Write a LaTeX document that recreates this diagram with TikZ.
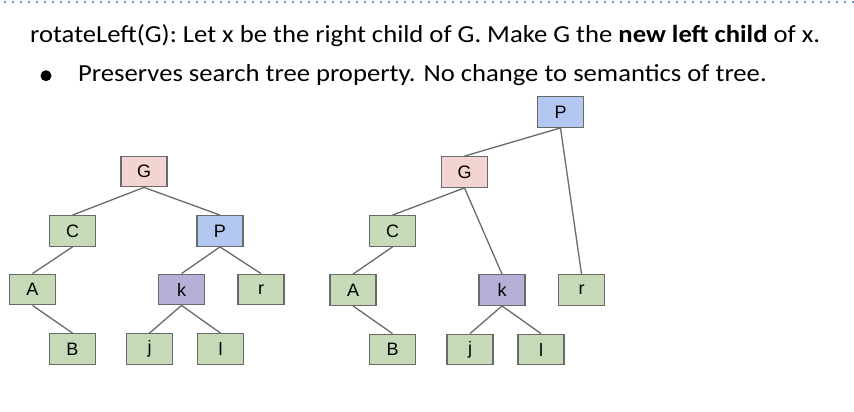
\documentclass[tikz,border=0pt]{standalone}
\usepackage{fontspec}
\setmainfont{Carlito}
\newfontfamily\boxfont{Liberation Sans}
\definecolor{dotblue}{HTML}{6F94C8}
\definecolor{gfill}{HTML}{F2D4D0}
\definecolor{cfill}{HTML}{C6DAB8}
\definecolor{pfill}{HTML}{B2C8F0}
\definecolor{kfill}{HTML}{B6B0D8}
\definecolor{edgegray}{HTML}{6A6A6A}
\tikzset{
  tn/.style={draw=edgegray, line width=1.3pt, minimum width=46pt, minimum height=30.5pt, inner sep=0pt, font=\boxfont\fontsize{18}{18}\selectfont},
  gnode/.style={tn, fill=gfill},
  cnode/.style={tn, fill=cfill},
  pnode/.style={tn, fill=pfill},
  knode/.style={tn, fill=kfill},
  link/.style={draw=edgegray, line width=1.3pt},
  txt/.style={anchor=base west, inner sep=0pt, font=\fontsize{24.5}{26}\selectfont},
}
\newcommand{\wide}[1]{\scalebox{1.088}[1]{#1}}
\begin{document}
\begin{tikzpicture}[x=1pt,y=-1pt]
\useasboundingbox (0,0) rectangle (854,412);
% dotted rule
\foreach \i in {0,...,106} {
  \fill[dotblue] (5+8*\i-1,1.5) rectangle (5+8*\i+1,3.5);
}
\node[txt] (title) at (30,42.3)
  {\wide{rotateLeft(G): Let x be the right child of G. Make G the \textbf{new left child} of x.}};
\fill (46,75.7) circle (5.5pt);
\node[txt] (line2) at (78,81.7)
  {\wide{Preserves search tree property. No change to semantics of tree.}};
% left tree
\node[gnode] (G1) at (144,171.5) {G};
\node[cnode] (C1) at (72.5,231) {C};
\node[pnode] (P1) at (220,231) {P};
\node[cnode] (A1) at (32.5,289.5) {A};
\node[knode] (k1) at (181.5,289.5) {k};
\node[cnode] (r1) at (261,289.5) {r};
\node[cnode] (B1) at (72.5,349) {B};
\node[cnode] (j1) at (149.5,349) {j};
\node[cnode] (l1) at (220.5,349) {l};
\draw[link] (G1.south) -- (C1.north);
\draw[link] (G1.south) -- (P1.north);
\draw[link] (C1.south) -- (A1.north);
\draw[link] (A1.south) -- (B1.north);
\draw[link] (P1.south) -- (k1.north);
\draw[link] (P1.south) -- (r1.north);
\draw[link] (k1.south) -- (j1.north);
\draw[link] (k1.south) -- (l1.north);
% right tree
\node[pnode] (P2) at (560.5,112) {P};
\node[gnode] (G2) at (464.5,172) {G};
\node[cnode] (C2) at (392.5,231) {C};
\node[cnode] (A2) at (353,290) {A};
\node[knode] (k2) at (502,290) {k};
\node[cnode] (r2) at (581.5,290) {r};
\node[cnode] (B2) at (392.5,349.5) {B};
\node[cnode] (j2) at (470,349.5) {j};
\node[cnode] (l2) at (541,349.5) {l};
\draw[link] (P2.south) -- (G2.north);
\draw[link] (P2.south) -- (r2.north);
\draw[link] (G2.south) -- (C2.north);
\draw[link] (G2.south) -- (k2.north);
\draw[link] (C2.south) -- (A2.north);
\draw[link] (A2.south) -- (B2.north);
\draw[link] (k2.south) -- (j2.north);
\draw[link] (k2.south) -- (l2.north);
\end{tikzpicture}
\end{document}
